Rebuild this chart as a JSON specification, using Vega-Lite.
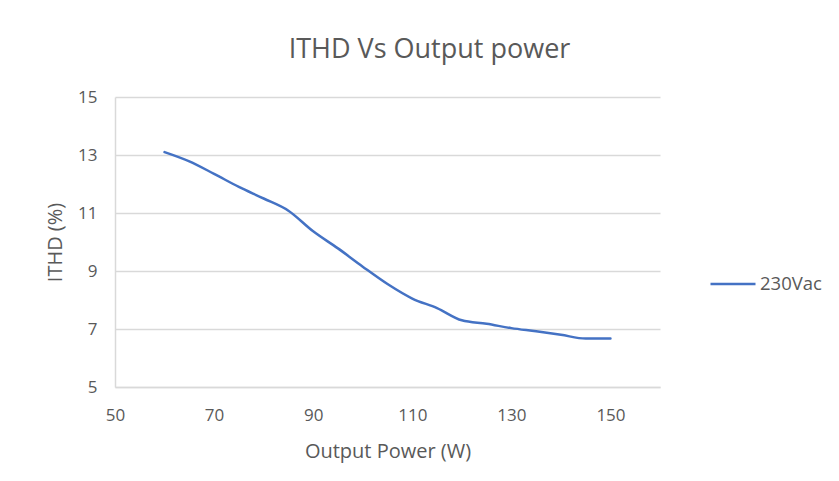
{
  "$schema": "https://vega.github.io/schema/vega-lite/v6.json",
  "autosize": "none",
  "width": 545,
  "height": 290,
  "padding": {"left": 115, "top": 97, "right": 179, "bottom": 94},
  "background": "white",
  "title": {
    "text": "ITHD Vs Output power",
    "font": "Open Sans",
    "fontSize": 27,
    "fontWeight": "normal",
    "color": "#595959",
    "anchor": "middle",
    "dx": 42,
    "offset": 24
  },
  "data": {
    "values": [
      {"power": 60, "ithd": 13.1, "series": "230Vac"},
      {"power": 65, "ithd": 12.78, "series": "230Vac"},
      {"power": 70, "ithd": 12.35, "series": "230Vac"},
      {"power": 75, "ithd": 11.9, "series": "230Vac"},
      {"power": 80, "ithd": 11.5, "series": "230Vac"},
      {"power": 85, "ithd": 11.08, "series": "230Vac"},
      {"power": 90, "ithd": 10.37, "series": "230Vac"},
      {"power": 95, "ithd": 9.78, "series": "230Vac"},
      {"power": 100, "ithd": 9.15, "series": "230Vac"},
      {"power": 105, "ithd": 8.55, "series": "230Vac"},
      {"power": 110, "ithd": 8.05, "series": "230Vac"},
      {"power": 115, "ithd": 7.72, "series": "230Vac"},
      {"power": 120, "ithd": 7.3, "series": "230Vac"},
      {"power": 125, "ithd": 7.18, "series": "230Vac"},
      {"power": 130, "ithd": 7.03, "series": "230Vac"},
      {"power": 135, "ithd": 6.92, "series": "230Vac"},
      {"power": 140, "ithd": 6.8, "series": "230Vac"},
      {"power": 145, "ithd": 6.67, "series": "230Vac"},
      {"power": 150, "ithd": 6.67, "series": "230Vac"}
    ]
  },
  "mark": {"type": "line", "interpolate": "monotone", "strokeWidth": 2.5, "strokeCap": "round"},
  "encoding": {
    "x": {
      "field": "power",
      "type": "quantitative",
      "scale": {"domain": [50, 160], "nice": false, "zero": false},
      "axis": {
        "title": "Output Power (W)",
        "values": [50, 70, 90, 110, 130, 150],
        "grid": false,
        "ticks": false,
        "labelFlush": false,
        "labelPadding": 20,
        "titlePadding": 18
      }
    },
    "y": {
      "field": "ithd",
      "type": "quantitative",
      "scale": {"domain": [5, 15], "nice": false, "zero": false},
      "axis": {
        "title": "ITHD (%)",
        "values": [5, 7, 9, 11, 13, 15],
        "grid": true,
        "ticks": false,
        "labelFlush": false,
        "labelPadding": 18,
        "titlePadding": 12
      }
    },
    "color": {
      "field": "series",
      "type": "nominal",
      "scale": {"range": ["#4472C4"]},
      "legend": {
        "title": null,
        "orient": "none",
        "legendX": 594,
        "legendY": 163,
        "symbolType": "stroke",
        "symbolSize": 2025,
        "symbolStrokeWidth": 2.5,
        "labelFont": "Open Sans",
        "labelFontSize": 18.5,
        "labelColor": "#595959",
        "labelOffset": 3
      }
    }
  },
  "config": {
    "view": {"stroke": null},
    "axis": {
      "labelFont": "Open Sans",
      "labelFontSize": 17,
      "labelColor": "#595959",
      "titleFont": "Open Sans",
      "titleFontSize": 20,
      "titleFontWeight": "normal",
      "titleColor": "#595959",
      "domainColor": "#d9d9d9",
      "domainWidth": 1.5,
      "gridColor": "#d9d9d9",
      "gridWidth": 1.5
    }
  }
}
